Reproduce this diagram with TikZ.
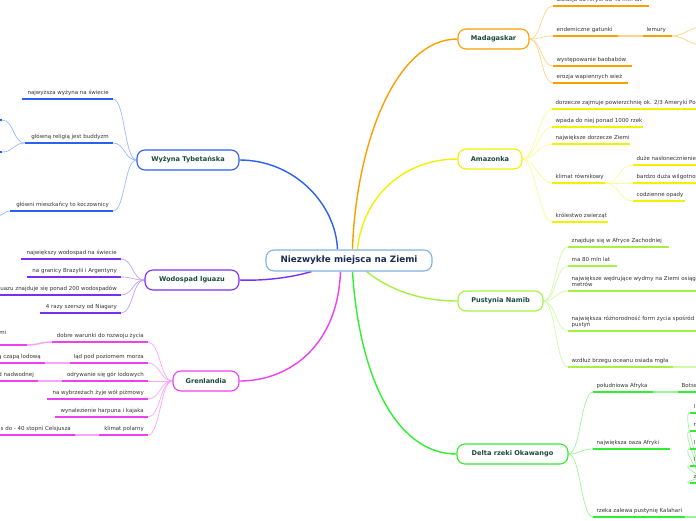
\documentclass[tikz,border=0pt]{standalone}
\usepackage{fontspec}
\setmainfont{DejaVu Sans}
\usetikzlibrary{calc}
\pgfdeclarelayer{bg}
\pgfsetlayers{bg,main}
\definecolor{blueM}{HTML}{2B5FF0}\definecolor{blueL}{HTML}{9DB8FF}
\definecolor{purM}{HTML}{7A2FF0}\definecolor{purL}{HTML}{C2A0FF}
\definecolor{magM}{HTML}{EE3FF0}\definecolor{magL}{HTML}{F7A6F7}
\definecolor{oraM}{HTML}{F8A000}\definecolor{oraL}{HTML}{FCD38A}
\definecolor{yelM}{HTML}{F2F200}\definecolor{yelL}{HTML}{FAFA99}
\definecolor{limM}{HTML}{A6F040}\definecolor{limL}{HTML}{D2F8A8}
\definecolor{grnM}{HTML}{2FF02F}\definecolor{grnL}{HTML}{9AF59A}
\definecolor{cenB}{HTML}{7FB2E5}
\definecolor{leafgray}{HTML}{333333}
\definecolor{nodegreen}{HTML}{1B4A3C}
\definecolor{cennavy}{HTML}{1C2D4F}
\tikzset{
 leaf/.style={inner sep=0pt, font=\fontsize{5.5}{6.2}\selectfont, text=leafgray, align=left},
 uline/.style={line width=1.5pt},
 conn/.style={line width=0.7pt},
 link/.style={line width=1.5pt},
 branch/.style={draw, fill=white, rounded corners=8pt, line width=1.1pt, minimum height=20pt, inner sep=0pt, font=\fontsize{6.6}{8}\selectfont\bfseries, text=nodegreen},
 mainc/.style={line width=1.4pt},
}
% right leaf: name, xs, xe, y, color, text
\newcommand\RL[6]{%
 \coordinate (#1s) at (#2,#4);
 \coordinate (#1e) at (#3,#4);
 \node[leaf,anchor=base west] (#1) at (#2+3.5,#4-4.5) {#6};
 \draw[uline,#5] (#1s) -- (#1e);
}
% left leaf: name, xleft, xright, y, color, text
\newcommand\LL[6]{%
 \coordinate (#1s) at (#3,#4);
 \coordinate (#1e) at (#2,#4);
 \node[leaf,anchor=base east] (#1) at (#3-4,#4-4.5) {#6};
 \draw[uline,#5] (#1e) -- (#1s);
}
\begin{document}
\begin{tikzpicture}[x=1pt,y=-1pt]
\useasboundingbox (0,0) rectangle (696,520);
\clip (0,0) rectangle (696,520);
% central and branch nodes
\node[branch, draw=cenB, text=cennavy, minimum width=166pt, minimum height=21pt, font=\fontsize{8.8}{10}\selectfont\bfseries] (c) at (349,260.5) {Niezwykłe miejsca na Ziemi};
\node[branch, draw=oraM, minimum width=71pt] (mad) at (493.5,39) {Madagaskar};
\node[branch, draw=yelM, minimum width=64pt] (ama) at (490,159) {Amazonka};
\node[branch, draw=limM, minimum width=85pt] (nam) at (500.5,301) {Pustynia Namib};
\node[branch, draw=grnM, minimum width=111pt] (del) at (512.5,454) {Delta rzeki Okawango};
\node[branch, draw=blueM, minimum width=102pt] (wyz) at (188,160) {Wyżyna Tybetańska};
\node[branch, draw=purM, minimum width=94pt] (igu) at (192,280) {Wodospad Iguazu};
\node[branch, draw=magM, minimum width=66pt] (gre) at (206,381) {Grenlandia};

% ---- Madagaskar
\RL{m1}{553}{649}{6}{oraM}{izolacja od Afryki od 40 mln lat}
\RL{m2}{553}{618}{36}{oraM}{endemiczne gatunki}
\RL{m2a}{643}{672}{36}{oraM}{lemury}
\RL{m3}{553}{632}{66}{oraM}{występowanie baobabów}
\RL{m4}{553}{628}{83}{oraM}{erozja wapiennych wież}
\coordinate (m2x) at (702,27);
\coordinate (m2y) at (702,45);
% ---- Amazonka
\RL{a1}{552}{700}{109}{yelM}{dorzecze zajmuje powierzchnię ok. 2/3 Ameryki Południowej}
\RL{a2}{552}{643}{127}{yelM}{wpada do niej ponad 1000 rzek}
\RL{a3}{552}{630}{144}{yelM}{największe dorzecze Ziemi}
\RL{a4}{552}{605}{183}{yelM}{klimat równikowy}
\RL{a4a}{633}{700}{165}{yelM}{duże nasłonecznienie}
\RL{a4b}{633}{700}{183}{yelM}{bardzo duża wilgotność}
\RL{a4c}{633}{685}{201}{yelM}{codzienne opady}
\RL{a5}{552}{608}{222}{yelM}{królestwo zwierząt}
% ---- Namib
\RL{n1}{568}{669}{247}{limM}{znajduje się w Afryce Zachodniej}
\RL{n2}{568}{617}{266}{limM}{ma 80 mln lat}
\coordinate (n3s) at (568,291); \coordinate (n3e) at (700,291);
\node[leaf,anchor=base west] (n3) at (571.5,286.5) {największe wędrujące wydmy na Ziemi osiągają\\metrów};
\draw[uline,limM] (n3s) -- (n3e);
\coordinate (n4s) at (568,331); \coordinate (n4e) at (700,331);
\node[leaf,anchor=base west] (n4) at (571.5,326.5) {największa różnorodność form życia spośród\\pustyń};
\draw[uline,limM] (n4s) -- (n4e);
\RL{n5}{568}{673}{367}{limM}{wzdłuż brzegu oceanu osiada mgła}
\coordinate (n5x) at (700,367);
% ---- Delta
\RL{d1}{593}{653}{392}{grnM}{południowa Afryka}
\RL{d1a}{678}{700}{392}{grnM}{Botswana}
\RL{d2}{593}{670}{449}{grnM}{największa oaza Afryki}
\RL{d2a}{690}{700}{413}{grnM}{l}
\RL{d2b}{690}{700}{431}{grnM}{r}
\RL{d2c}{690}{700}{449}{grnM}{l}
\RL{d2d}{690}{700}{466}{grnM}{l}
\RL{d2e}{690}{700}{483}{grnM}{z}
\RL{d3}{593}{685}{517}{grnM}{rzeka zalewa pustynię Kalahari}
\coordinate (d3x) at (700,517);
% ---- Wyzyna
\LL{w1}{22}{113}{99}{blueM}{najwyższa wyżyna na świecie}
\LL{w2}{25}{113}{143}{blueM}{główną religią jest buddyzm}
\LL{w3}{10}{113}{211}{blueM}{główni mieszkańcy to koczownicy}
\coordinate (w2x) at (2,120); \coordinate (w2y) at (2,152);
\coordinate (w3x) at (-3,216);
\draw[uline,blueM] (w2x) -- (-5,120);
\draw[uline,blueM] (w2y) -- (-5,152);
% ---- Iguazu
\LL{i1}{21}{121}{259}{purM}{największy wodospad na świecie}
\LL{i2}{27}{121}{277}{purM}{na granicy Brazylii i Argentyny}
\LL{i3}{-5}{121}{295}{purM}{Iguazu znajduje się ponad 200 wodospadów}
\LL{i4}{40}{121}{313}{purM}{4 razy szerszy od Niagary}
% ---- Grenlandia
\LL{g1}{52}{148}{342}{magM}{dobre warunki do rozwoju życia}
\coordinate (g1as) at (27,345); \draw[uline,magM] (-5,345) -- (g1as);
\node[leaf,anchor=base east] (g1a) at (6.5,334.5) {mi};
\LL{g2}{70}{148}{363}{magM}{ląd pod poziomem morza}
\LL{g2a}{-5}{45}{363}{magM}{ą czapą lodową}
\LL{g3}{62}{148}{381}{magM}{odrywanie się gór lodowych}
\LL{g3a}{-5}{38}{381}{magM}{d nadwodnej}
\LL{g4}{47}{148}{399}{magM}{na wybrzeżach żyje wół piżmowy}
\LL{g5}{55}{148}{417}{magM}{wynalezienie harpuna i kajaka}
\LL{g6}{99}{148}{435}{magM}{klimat polarny}
\LL{g6a}{-5}{75}{435}{magM}{s do - 40 stopni Celsjusza}

\begin{pgfonlayer}{bg}
% main connectors
\draw[mainc,blueM] ($(c.north west)+(72,0)$) .. controls (336,205) and (295,160) .. (wyz.east);
\draw[mainc,oraM] ($(c.north west)+(87,0)$) .. controls (356,145) and (395,39) .. (mad.west);
\draw[mainc,yelM] ($(c.north west)+(92,0)$) .. controls (363,195) and (405,159) .. (ama.west);
\draw[mainc,limM] ($(c.south west)+(101,0)$) .. controls (390,290) and (420,301) .. (nam.west);
\draw[mainc,grnM] ($(c.south west)+(87,0)$) .. controls (360,385) and (400,454) .. (del.west);
\draw[mainc,purM] ($(c.south west)+(46,0)$) .. controls (290,278) and (262,281) .. (igu.east);
\draw[mainc,magM] ($(c.south west)+(75,0)$) .. controls (338,345) and (290,381) .. (gre.east);
% right side connectors
\foreach \l in {m1,m2,m3,m4} \draw[conn,oraL] (mad.east) .. controls +(12,0) and +(-12,0) .. (\l s);
\foreach \l in {a1,a2,a3,a4,a5} \draw[conn,yelL] (ama.east) .. controls +(12,0) and +(-12,0) .. (\l s);
\foreach \l in {n1,n2,n3,n4,n5} \draw[conn,limL] (nam.east) .. controls +(12,0) and +(-12,0) .. (\l s);
\foreach \l in {d1,d2,d3} \draw[conn,grnL] (del.east) .. controls +(12,0) and +(-12,0) .. (\l s);
\draw[link,oraL] (m2e) -- (m2as);
\foreach \l in {m2x,m2y} \draw[conn,oraL] (m2ae) .. controls +(12,0) and +(-12,0) .. (\l);
\foreach \l in {a4a,a4b,a4c} \draw[conn,yelL] (a4e) .. controls +(14,0) and +(-14,0) .. (\l s);
\draw[link,limL] (n5e) -- (n5x);
\draw[link,grnL] (d1e) -- (d1as);
\foreach \l in {d2a,d2b,d2c,d2d,d2e} \draw[conn,grnL] (d2e) .. controls +(10,0) and +(-10,0) .. (\l s);
\draw[link,grnL] (d3e) -- (d3x);
% left side connectors
\foreach \l in {w1,w2,w3} \draw[conn,blueL] (wyz.west) .. controls +(-12,0) and +(12,0) .. (\l s);
\foreach \l in {w2x,w2y} \draw[conn,blueL] (w2e) .. controls +(-12,0) and +(12,0) .. (\l);
\draw[conn,blueL] (w3e) .. controls +(-6,0) and +(6,0) .. (w3x);
\foreach \l in {i1,i2,i3,i4} \draw[conn,purL] (igu.west) .. controls +(-12,0) and +(12,0) .. (\l s);
\foreach \l in {g1,g2,g3,g4,g5,g6} \draw[conn,magL] (gre.west) .. controls +(-12,0) and +(12,0) .. (\l s);
\draw[link,magL] (g1e) .. controls +(-12,0) and +(12,0) .. (g1as);
\draw[link,magL] (g2e) -- (g2as);
\draw[link,magL] (g3e) -- (g3as);
\draw[link,magL] (g6e) -- (g6as);
\end{pgfonlayer}
\end{tikzpicture}
\end{document}
